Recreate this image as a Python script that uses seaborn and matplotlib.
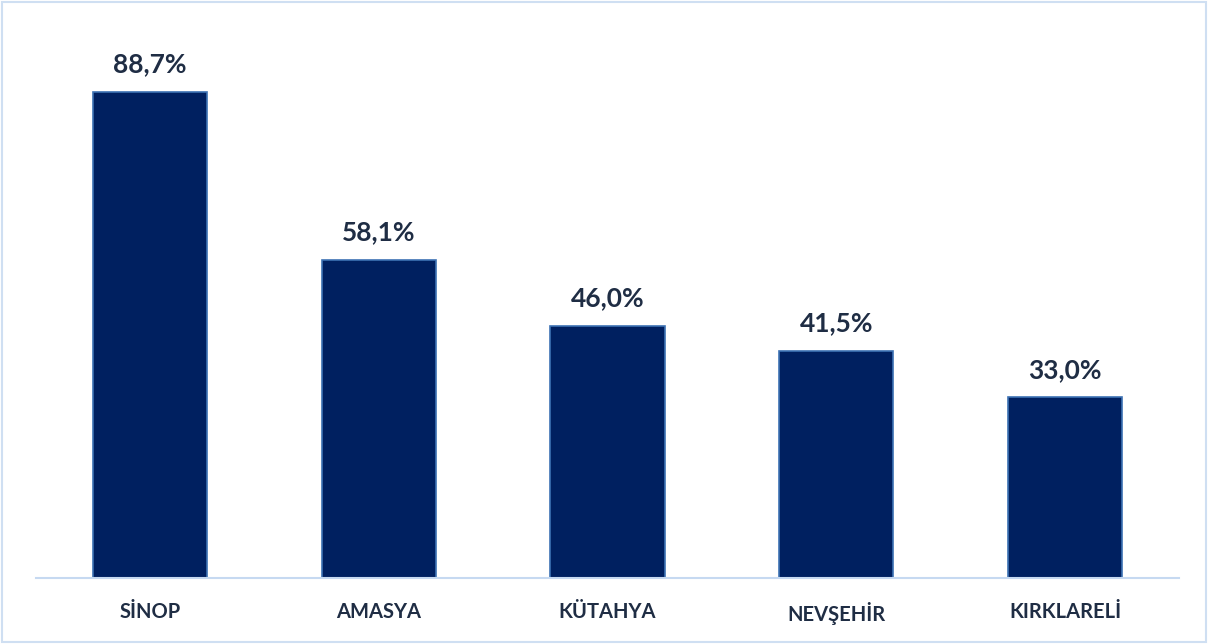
import matplotlib
matplotlib.use("Agg")
import matplotlib.pyplot as plt
import seaborn as sns
import pandas as pd

# data
provinces = ["SİNOP", "AMASYA", "KÜTAHYA", "NEVŞEHİR", "KIRKLARELİ"]
rates = [88.7, 58.1, 46.0, 41.5, 33.0]
value_labels = ["88,7%", "58,1%", "46,0%", "41,5%", "33,0%"]

df = pd.DataFrame({"il": provinces, "oran": rates})

sns.set_style("white")
plt.rcParams["font.family"] = ["Lato", "DejaVu Sans"]

fig = plt.figure(figsize=(12.08, 6.44), dpi=100)
ax = fig.add_axes([0.0294, 0.1025, 0.947, 0.851])

sns.barplot(data=df, x="il", y="oran", color="#002060", width=0.5,
            edgecolor="#3d72b4", linewidth=1.2, saturation=1, ax=ax)

for i, lab in enumerate(value_labels):
    ax.annotate(lab, (i, rates[i]), xytext=(0, 11), textcoords="offset points",
                ha="center", va="bottom", fontsize=19, fontweight="bold",
                color="#1f2d44")

ax.set_ylim(0, 100)
ax.set_xlim(-0.5, 4.5)
ax.set_xlabel("")
ax.set_ylabel("")
ax.set_yticks([])
ax.tick_params(axis="x", length=0, pad=17)
for t in ax.get_xticklabels():
    t.set_fontsize(14.5)
    t.set_fontweight("bold")
    t.set_color("#1f2d44")

for s in ["top", "right", "left"]:
    ax.spines[s].set_visible(False)
ax.spines["bottom"].set_color("#c6d9f1")
ax.spines["bottom"].set_linewidth(1.5)

# light border around the whole figure
fig.patches.append(plt.Rectangle((0.002, 0.003), 0.996, 0.994, transform=fig.transFigure,
                                 fill=False, edgecolor="#cfdff2", linewidth=1.5))

fig.savefig("out.png", dpi=100)
